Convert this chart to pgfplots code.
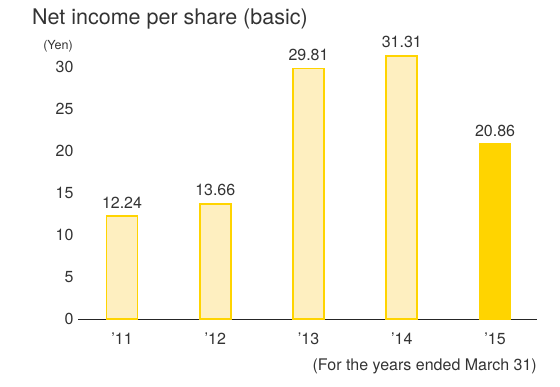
\documentclass[border=0pt]{standalone}
\usepackage{fontspec}
\setmainfont{TeX Gyre Heros}
\usepackage{pgfplots}
\pgfplotsset{compat=1.18}
\definecolor{edgeY}{HTML}{FFD400}
\definecolor{fillY}{HTML}{FEEFC0}
\definecolor{txt}{HTML}{333333}
\begin{document}
\begin{tikzpicture}
\useasboundingbox (-78pt,-67pt) rectangle (482pt,319pt);
\begin{axis}[
  at={(0,0)}, anchor=south west,
  scale only axis, width=459pt, height=268.8pt,
  xmin=-0.472, xmax=4.45, ymin=0, ymax=32,
  axis x line=bottom, axis y line=left,
  x axis line style={-, line width=0.9pt, draw=black!85},
  y axis line style={draw=none},
  major tick length=0pt,
  xtick={0,1,2,3,4}, xticklabels={’11,’12,’13,’14,’15},
  ytick={0,5,...,30},
  /pgf/number format/assume math mode=true,
  tick label style={font=\fontsize{16}{18}\selectfont, text=txt},
  yticklabel style={xshift=-1pt},
  xticklabel style={yshift=-10pt},
  ybar, bar width=31pt, bar shift=0pt,
  nodes near coords,
  nodes near coords style={font=\fontsize{16}{18}\selectfont, text=txt, anchor=south, yshift=4pt,
    /pgf/number format/.cd, fixed, fixed zerofill, precision=2, assume math mode=true},
  clip=false,
]
\addplot[draw=edgeY, fill=fillY, line width=1.6pt] coordinates {(0,12.24) (1,13.66) (2,29.81) (3,31.31)};
\addplot[draw=edgeY, fill=edgeY, line width=0pt] coordinates {(4,20.86)};
\end{axis}
\node[anchor=west, text=txt, font=\fontsize{21.5}{24}\selectfont, inner sep=0pt] at (-46pt,300pt) {Net income per share (basic)};
\node[text=txt, font=\fontsize{12.5}{14}\selectfont, inner sep=0pt] at (-20pt,273pt) {(Yen)};
\node[anchor=east, text=txt, font=\fontsize{16}{18}\selectfont, inner sep=0pt] at (459pt,-47pt) {(For the years ended March 31)};
\end{tikzpicture}
\end{document}
